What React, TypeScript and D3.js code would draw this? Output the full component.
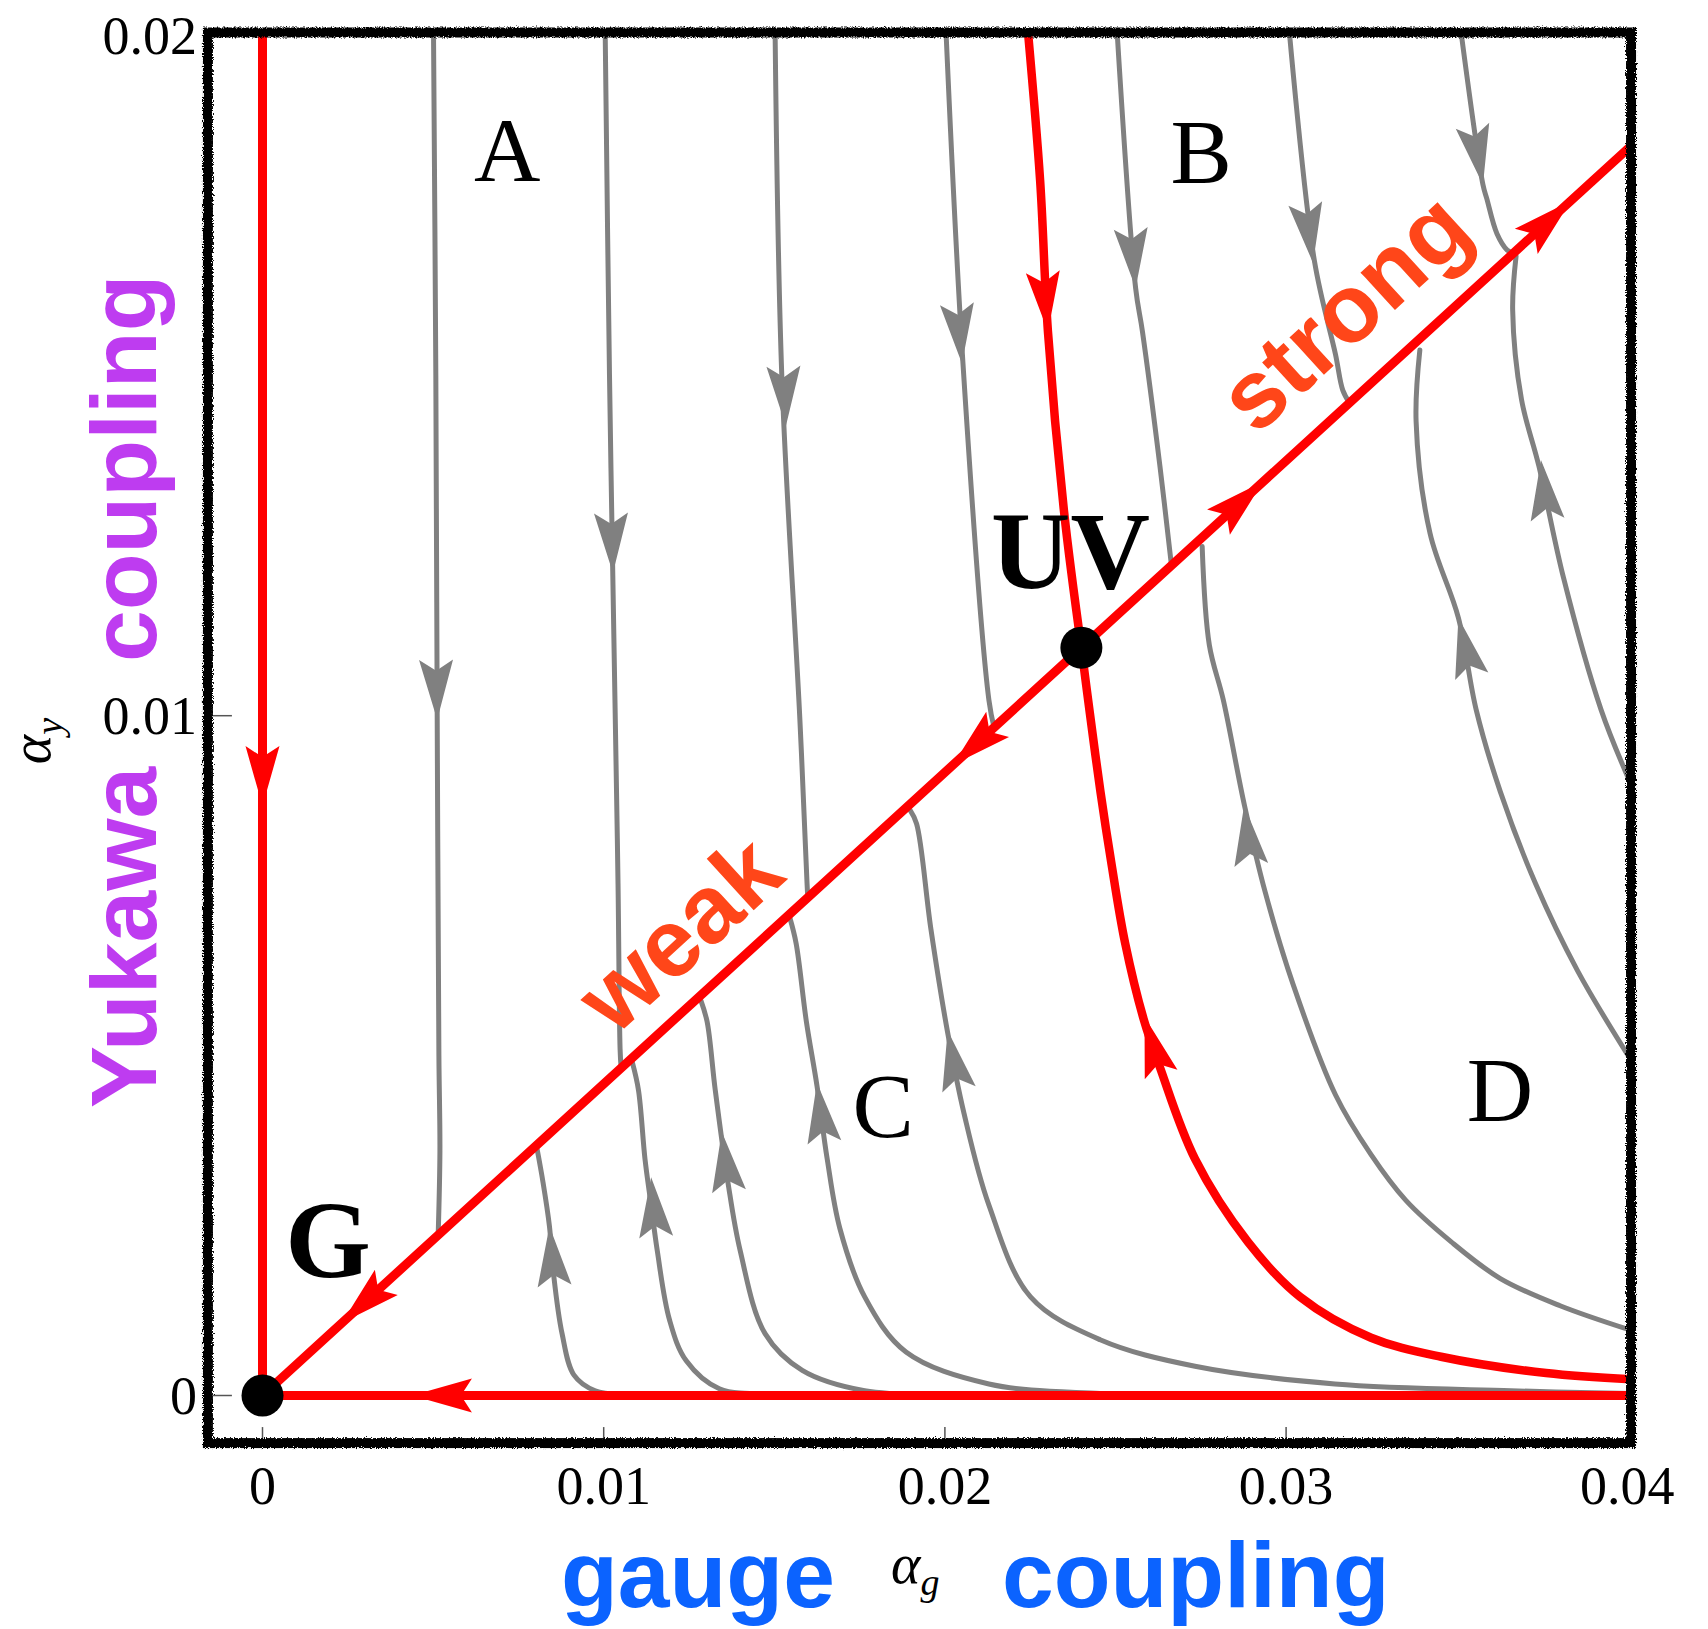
import * as d3 from "d3";

const X_TICKS = [0, 0.01, 0.02, 0.03, 0.04];
const X_TICK_LABELS = ["0", "0.01", "0.02", "0.03", "0.04"];
const Y_TICKS = [0, 0.01, 0.02];
const Y_TICK_LABELS = ["0", "0.01", "0.02"];

// fixed points
const UV_POINT = [0.024, 0.011];
const G_POINT = [0, 0];

// red trajectories
const RED_VERTICAL = [[0, 0.0202], [0, 0]];
const RED_HORIZONTAL = [[0.0402, 0], [0, 0]];
const RED_DIAGONAL = [[0, 0], [0.0402, 0.018425]];
const RED_SEP_TOP = [[0.02241, 0.0202], [0.02279, 0.01788], [0.02302, 0.01565], [0.02349, 0.01301], [0.024, 0.011]];
const RED_SEP_LOW = [[0.0401, 0.00024], [0.03762, 0.00033], [0.03454, 0.00057], [0.03249, 0.00085], [0.03041, 0.00145], [0.02888, 0.00226], [0.02733, 0.00348], [0.0263, 0.00483], [0.02584, 0.00551], [0.02528, 0.00666], [0.02487, 0.00786], [0.02456, 0.00888], [0.02425, 0.01003], [0.024, 0.011]];

// gray flow lines above the diagonal (running down)
const FLOW_A1 = [[0.00501, 0.0202], [0.00508, 0.015], [0.00512, 0.01], [0.00517, 0.005], [0.0052, 0.0036], [0.00515, 0.00238]];
const FLOW_A2 = [[0.01004, 0.0202], [0.01017, 0.015], [0.01033, 0.01023], [0.01042, 0.00753], [0.01048, 0.0051], [0.01051, 0.00482]];
const FLOW_A3 = [[0.01502, 0.0202], [0.01522, 0.015], [0.01575, 0.00994], [0.01596, 0.00753], [0.01598, 0.00733]];
const FLOW_A4 = [[0.02002, 0.0202], [0.02053, 0.01518], [0.02129, 0.01023], [0.02144, 0.00983]];
const FLOW_B1 = [[0.02503, 0.0202], [0.02559, 0.01629], [0.02579, 0.01565], [0.0263, 0.01368], [0.02664, 0.01221]];
const FLOW_B2 = [[0.03007, 0.0202], [0.03083, 0.01669], [0.03145, 0.01531], [0.03166, 0.01479], [0.03186, 0.0146]];
const FLOW_B3 = [[0.03509, 0.0202], [0.03577, 0.01781], [0.03588, 0.01761], [0.03618, 0.01709], [0.03648, 0.01685], [0.03672, 0.01679]];

// gray flow lines below the diagonal (running up)
const FLOW_C1 = [[0.0115, 0], [0.01071, 0.00001], [0.00975, 0.00007], [0.00913, 0.0003], [0.00878, 0.00091], [0.00853, 0.00179], [0.00841, 0.00249], [0.00822, 0.00314], [0.00805, 0.00362]];
const FLOW_C2 = [[0.017, 0], [0.01522, 0.00002], [0.01339, 0.0001], [0.01242, 0.00051], [0.01193, 0.00111], [0.01157, 0.00213], [0.01139, 0.0028], [0.01121, 0.00348], [0.01102, 0.00449], [0.01084, 0.0049]];
const FLOW_C3 = [[0.0225, 0], [0.02008, 0.00001], [0.01765, 0.00007], [0.01582, 0.00037], [0.01473, 0.00091], [0.014, 0.00213], [0.01364, 0.00314], [0.01327, 0.00449], [0.01303, 0.0055], [0.01285, 0.00581]];
const FLOW_C4 = [[0.0275, 0], [0.02455, 0.00003], [0.02129, 0.00017], [0.01886, 0.00064], [0.01765, 0.00145], [0.01692, 0.00246], [0.01655, 0.00348], [0.01625, 0.00456], [0.01594, 0.0055], [0.01564, 0.00665], [0.01546, 0.00702]];
const FLOW_C5 = [[0.0401, 0.00003], [0.03659, 0.00007], [0.03143, 0.00017], [0.02733, 0.00043], [0.02455, 0.00082], [0.02251, 0.00145], [0.02129, 0.0028], [0.02056, 0.00415], [0.02008, 0.00534], [0.01959, 0.00686], [0.01917, 0.00841], [0.01898, 0.00861]];
const FLOW_D1 = [[0.0401, 0.00096], [0.03803, 0.00132], [0.03628, 0.00172], [0.03484, 0.00226], [0.03351, 0.00287], [0.03248, 0.00355], [0.03145, 0.00442], [0.03021, 0.00604], [0.02939, 0.0074], [0.02878, 0.00868], [0.02816, 0.01023], [0.02775, 0.01104], [0.02754, 0.01249]];
const FLOW_D2 = [[0.0401, 0.00494], [0.03854, 0.00625], [0.03731, 0.00753], [0.03628, 0.00888], [0.03557, 0.01009], [0.03505, 0.01144], [0.03422, 0.01268], [0.03381, 0.01433], [0.03392, 0.01538]];
const FLOW_D3 = [[0.0401, 0.009], [0.03923, 0.01009], [0.03813, 0.01203], [0.03741, 0.01367], [0.0369, 0.01465], [0.03664, 0.01597], [0.03674, 0.01676]];

const GRAY_FLOWS = [FLOW_A1, FLOW_A2, FLOW_A3, FLOW_A4, FLOW_B1, FLOW_B2, FLOW_B3, FLOW_C1, FLOW_C2, FLOW_C3, FLOW_C4, FLOW_C5, FLOW_D1, FLOW_D2, FLOW_D3];

// arrows: [tip x, tip y, base x, base y]
const GRAY_ARROWS = [
  [0.00512, 0.00994, 0.00509, 0.01072],
  [0.01027, 0.0121, 0.01022, 0.01288],
  [0.01534, 0.01426, 0.01528, 0.01499],
  [0.0205, 0.01518, 0.02038, 0.01589],
  [0.02559, 0.01629, 0.02548, 0.01696],
  [0.03079, 0.01666, 0.03061, 0.01735],
  [0.03577, 0.01781, 0.03554, 0.01846],
  [0.00841, 0.00249, 0.00853, 0.00179],
  [0.01139, 0.00321, 0.01151, 0.0025],
  [0.01346, 0.00388, 0.01364, 0.00314],
  [0.01625, 0.0046, 0.01643, 0.00388],
  [0.02008, 0.00537, 0.02038, 0.00459],
  [0.02877, 0.00868, 0.02894, 0.00797],
  [0.03505, 0.01144, 0.03535, 0.01078],
  [0.03747, 0.01376, 0.03762, 0.01308],
];
const RED_ARROWS = [
  [0, 0.00867, 0, 0.00941],
  [0.02302, 0.01565, 0.02291, 0.01629],
  [0.02585, 0.00557, 0.0262, 0.00496],
  [0.00233, 0.00107, 0.0034, 0.00156],
  [0.02024, 0.00928, 0.0213, 0.00976],
  [0.02932, 0.01344, 0.0282, 0.01293],
  [0.03834, 0.01757, 0.0372, 0.01705],
  [0.00438, 0, 0.0059, 0],
];

// region labels
const REGION_LABELS = [
  { text: "A", x: 0.00717, y: 0.01787 },
  { text: "B", x: 0.02751, y: 0.01784 },
  { text: "C", x: 0.01819, y: 0.0038 },
  { text: "D", x: 0.03627, y: 0.00404 },
];
const POINT_LABELS = [
  { text: "UV", x: 0.02368, y: 0.01188 },
  { text: "G", x: 0.00192, y: 0.00174 },
];
const DIAG_LABELS = [
  { text: "weak", at: 0.0134, off: 27 },
  { text: "strong", at: 0.0331, off: 38 },
];

const FRAME = { x0: -0.0016, x1: 0.04011, y0: -0.0007, y1: 0.02005 };

const SERIF = "'Liberation Serif', 'Times New Roman', serif";
const SANS = "'Liberation Sans', Arial, Helvetica, sans-serif";

export default function App() {
  const W = 1708, H = 1629;
  const x = d3.scaleLinear().domain([0, 0.04]).range([262.5, 1627.3]);
  const y = d3.scaleLinear().domain([0, 0.02]).range([1395.5, 35.9]);

  const curve = d3.line<number[]>().x(d => x(d[0])).y(d => y(d[1])).curve(d3.curveCatmullRom.alpha(0.5));
  const straight = d3.line<number[]>().x(d => x(d[0])).y(d => y(d[1]));

  function arrow(a: number[], len = 60, half = 17, notch = 11) {
    const tx = x(a[0]), ty = y(a[1]);
    const bx = x(a[2]), by = y(a[3]);
    const L = Math.hypot(tx - bx, ty - by);
    const ux = (tx - bx) / L, uy = (ty - by) / L;
    const nx = -uy, ny = ux;
    const backX = tx - ux * len, backY = ty - uy * len;
    const midX = tx - ux * (len - notch), midY = ty - uy * (len - notch);
    return `M${tx},${ty}L${backX + nx * half},${backY + ny * half}L${midX},${midY}L${backX - nx * half},${backY - ny * half}Z`;
  }

  const fx0 = x(FRAME.x0), fx1 = x(FRAME.x1), fy0 = y(FRAME.y1), fy1 = y(FRAME.y0);
  const slope = UV_POINT[1] / UV_POINT[0];
  const ang = Math.atan2(y(slope * 0.04) - y(0), x(0.04) - x(0)) * 180 / Math.PI;

  return (
    <svg width={W} height={H} style={{ position: "absolute", left: 0, top: 0, background: "#fff" }}>
      <defs>
        <clipPath id="plotClip">
          <rect x={fx0} y={fy0} width={fx1 - fx0} height={fy1 - fy0} />
        </clipPath>
        <filter id="rough" x="-5%" y="-5%" width="110%" height="110%">
          <feTurbulence type="fractalNoise" baseFrequency="0.9" numOctaves="2" seed="3" result="noise" />
          <feDisplacementMap in="SourceGraphic" in2="noise" scale="5" xChannelSelector="R" yChannelSelector="G" />
        </filter>
      </defs>

      {/* ticks */}
      <g stroke="#555" strokeWidth={1.5}>
        {Y_TICKS.map(t => <line key={"yt" + t} x1={fx0} x2={fx0 + 24} y1={y(t)} y2={y(t)} />)}
        {X_TICKS.map(t => <line key={"xt" + t} x1={x(t)} x2={x(t)} y1={fy1} y2={fy1 - 16} />)}
      </g>

      <g clipPath="url(#plotClip)" fill="none" strokeLinecap="round" strokeLinejoin="round">
        {GRAY_FLOWS.map((f, i) => <path key={"g" + i} d={curve(f) || ""} stroke="#808080" strokeWidth={5} />)}
        <path d={straight(RED_VERTICAL) || ""} stroke="#ff0000" strokeWidth={9} />
        <path d={straight(RED_HORIZONTAL) || ""} stroke="#ff0000" strokeWidth={9} />
        <path d={straight(RED_DIAGONAL) || ""} stroke="#ff0000" strokeWidth={9} />
        <path d={curve(RED_SEP_TOP) || ""} stroke="#ff0000" strokeWidth={8.5} />
        <path d={curve(RED_SEP_LOW) || ""} stroke="#ff0000" strokeWidth={8.5} />
        {GRAY_ARROWS.map((a, i) => <path key={"ga" + i} d={arrow(a)} fill="#808080" stroke="none" />)}
        {RED_ARROWS.map((a, i) => <path key={"ra" + i} d={arrow(a)} fill="#ff0000" stroke="none" />)}
      </g>

      {[UV_POINT, G_POINT].map((p, i) => <circle key={"p" + i} cx={x(p[0])} cy={y(p[1])} r={21} fill="#000" />)}

      {REGION_LABELS.map(l => (
        <text key={l.text} x={x(l.x)} y={y(l.y)} textAnchor="middle" fontFamily={SERIF} fontSize={92} fill="#000">{l.text}</text>
      ))}
      {POINT_LABELS.map(l => (
        <text key={l.text} x={x(l.x)} y={y(l.y)} textAnchor="middle" fontFamily={SERIF} fontWeight="bold" fontSize={110} fill="#000">{l.text}</text>
      ))}
      {DIAG_LABELS.map(l => (
        <g key={l.text} transform={`translate(${x(l.at)},${y(slope * l.at)}) rotate(${ang})`}>
          <text x={0} y={-l.off} textAnchor="middle" fontFamily={SANS} fontWeight="bold" fontSize={96} fill="#ff4619">{l.text}</text>
        </g>
      ))}

      {/* frame */}
      <rect x={fx0} y={fy0} width={fx1 - fx0} height={fy1 - fy0} fill="none" stroke="#000" strokeWidth={10} filter="url(#rough)" />

      {/* tick labels */}
      <g fontFamily={SERIF} fontSize={54} fill="#000">
        {X_TICKS.map((t, i) => <text key={"xl" + t} x={x(t)} y={1504} textAnchor="middle">{X_TICK_LABELS[i]}</text>)}
        {Y_TICKS.map((t, i) => <text key={"yl" + t} x={197} y={y(t) + 18} textAnchor="end">{Y_TICK_LABELS[i]}</text>)}
      </g>

      {/* axis labels */}
      <text x={891} y={1583} fontFamily={SERIF} fontStyle="italic" fontSize={56} fill="#000">
        α<tspan fontSize={38} dy={12}>g</tspan>
      </text>
      <g transform="translate(50,741) rotate(-90)">
        <text x={0} y={0} textAnchor="middle" fontFamily={SERIF} fontStyle="italic" fontSize={56} fill="#000">
          α<tspan fontSize={38} dy={12}>y</tspan>
        </text>
      </g>
      <g fontFamily={SANS} fontWeight="bold" fontSize={93}>
        <text x={561} y={1607} fill="#0b63ff">gauge</text>
        <text x={1002} y={1607} fill="#0b63ff">coupling</text>
        <g transform="translate(156,0) rotate(-90)">
          <text x={-1108} y={0} fill="#be3cf0">Yukawa</text>
          <text x={-662} y={0} fill="#be3cf0">coupling</text>
        </g>
      </g>
    </svg>
  );
}
